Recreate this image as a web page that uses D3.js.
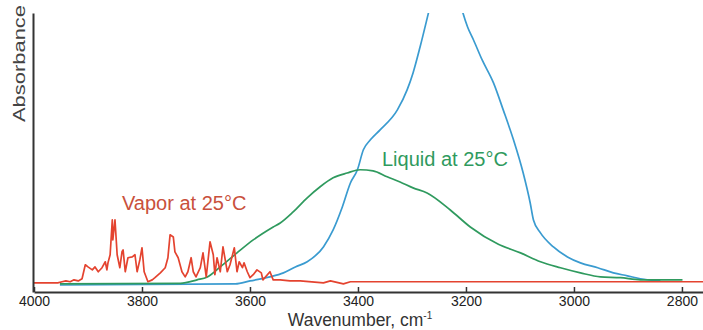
<!DOCTYPE html>
<html>
<head>
<meta charset="utf-8">
<script src="https://cdn.jsdelivr.net/npm/d3@7"></script>
<style>
  body { margin: 0; background: #fff; }
  svg { display: block; font-family: "Liberation Sans", Arial, sans-serif; }
</style>
</head>
<body>
<svg id="chart" width="703" height="330"></svg>
<script>
// Tick values on the wavenumber axis
const xTicks = [4000, 3800, 3600, 3400, 3200, 3000, 2800];

// Vapor at 25°C (red)
const vaporWn = [4000, 3956, 3948, 3941, 3933, 3926, 3918, 3911, 3905, 3900, 3892, 3887, 3881, 3874, 3868, 3865, 3863, 3859, 3855, 3854,
  3850, 3846, 3841, 3837, 3835, 3831, 3826, 3818, 3813, 3809, 3804, 3800, 3796, 3789, 3781, 3776, 3766, 3757, 3752, 3748,
  3742, 3739, 3733, 3726, 3720, 3715, 3709, 3705, 3700, 3692, 3687, 3681, 3674, 3668, 3665, 3661, 3655, 3650, 3642, 3637,
  3629, 3624, 3620, 3614, 3611, 3605, 3600, 3594, 3587, 3579, 3576, 3563, 3557, 3544, 3526, 3507, 3464, 3451, 3427, 3414, 2761];
const vaporAbs = [0, 0, 0.004, 0.007, 0.004, 0.011, 0.007, 0.015, 0.067, 0.059, 0.048, 0.059, 0.041, 0.056, 0.078, 0.048, 0.074, 0.104, 0.233, 0.159,
  0.233, 0.104, 0.056, 0.115, 0.122, 0.041, 0.093, 0.096, 0.104, 0.041, 0.085, 0.130, 0.041, 0.004, 0.011, 0.019, 0.037, 0.056, 0.093, 0.178,
  0.170, 0.115, 0.093, 0.041, 0.022, 0.041, 0.093, 0.041, 0.022, 0.056, 0.111, 0.022, 0.152, 0.104, 0.030, 0.093, 0.041, 0.133, 0.041, 0.067,
  0.130, 0.041, 0.078, 0.056, 0.074, 0.041, 0.019, 0.030, 0.048, 0.037, 0.011, 0.041, 0.011, 0.011, 0.007, 0.007, 0, 0.007, -0.004, 0.004, 0.004];

// Liquid at 25°C (green)
const liquidWn = [3952, 3729, 3698, 3679, 3655, 3624, 3594, 3557, 3544, 3520, 3494, 3470, 3446, 3420, 3396, 3372, 3346, 3322, 3298, 3272,
  3229, 3192, 3140, 3099, 3062, 3025, 2988, 2951, 2914, 2877, 2799];
const liquidAbs = [-0.004, -0.002, 0.011, 0.022, 0.059, 0.111, 0.159, 0.207, 0.222, 0.263, 0.315, 0.356, 0.389, 0.407, 0.419, 0.415, 0.393, 0.374, 0.352, 0.333,
  0.270, 0.207, 0.143, 0.111, 0.078, 0.056, 0.037, 0.022, 0.019, 0.011, 0.011];

// Unlabelled band (blue), peak runs off the top of the plot
const solidWn = [3952, 3627, 3600, 3563, 3538, 3516, 3494, 3464, 3446, 3429, 3414, 3401, 3390, 3377, 3359, 3327, 3309, 3298, 3285, 3270,
  3257, 3238, 3220, 3205, 3197, 3186, 3170, 3149, 3131, 3112, 3094, 3081, 3075, 3062, 3038, 3012, 2988, 2956, 2927, 2901, 2877, 2840];
const solidAbs = [-0.008, -0.004, 0.007, 0.022, 0.037, 0.059, 0.078, 0.133, 0.196, 0.281, 0.370, 0.419, 0.493, 0.530, 0.567, 0.641, 0.715, 0.778, 0.874, 0.996,
  1.104, 1.178, 1.120, 0.996, 0.948, 0.900, 0.826, 0.741, 0.641, 0.530, 0.407, 0.296, 0.233, 0.185, 0.133, 0.096, 0.074, 0.056, 0.037, 0.026, 0.015, 0.007];

const svg = d3.select('#chart');
const plotLeft = 33, plotRight = 703, plotTop = 13, plotBottom = 292;

const x = d3.scaleLinear().domain([4000, 2761]).range([34, plotRight]);
const y = d3.scaleLinear().domain([-0.034, 1.0]).range([plotBottom, plotTop]);

svg.append('defs').append('clipPath').attr('id', 'plot')
  .append('rect').attr('x', plotLeft).attr('y', plotTop)
  .attr('width', plotRight - plotLeft).attr('height', plotBottom - plotTop);

const plot = svg.append('g').attr('clip-path', 'url(#plot)');

// smooth bands get a monotone curve, the vapor lines stay jagged
const series = [
  { wn: solidWn, abs: solidAbs, color: '#3a9bd0', curve: d3.curveMonotoneX },
  { wn: liquidWn, abs: liquidAbs, color: '#2f9a5e', curve: d3.curveMonotoneX },
  { wn: vaporWn, abs: vaporAbs, color: '#e4432f', curve: d3.curveLinear }
];
series.forEach(s => {
  const line = d3.line().x(d => x(d[0])).y(d => y(d[1])).curve(s.curve);
  plot.append('path')
    .datum(d3.zip(s.wn, s.abs))
    .attr('d', line)
    .attr('fill', 'none')
    .attr('stroke', s.color)
    .attr('stroke-width', 1.7)
    .attr('stroke-linejoin', 'round');
});

// Bottom axis: ticks point up into the plot, labels below
const xAxis = svg.append('g')
  .attr('transform', `translate(0,${plotBottom})`)
  .call(d3.axisBottom(x).tickValues(xTicks).tickSizeInner(-5).tickSizeOuter(0).tickPadding(4).tickFormat(d3.format('d')));
xAxis.select('.domain').attr('stroke', '#333').attr('stroke-width', 2);
xAxis.selectAll('.tick line').attr('stroke', '#333').attr('stroke-width', 1.5);
xAxis.selectAll('.tick text').attr('font-size', 14).attr('fill', '#222')
  .attr('font-family', '"Liberation Sans", Arial, sans-serif');

// Left axis: just the line
const yAxis = svg.append('g')
  .attr('transform', `translate(${plotLeft},0)`)
  .call(d3.axisLeft(y).ticks(0).tickSize(0));
yAxis.select('.domain').attr('stroke', '#333').attr('stroke-width', 2);

// Axis titles
const xTitle = svg.append('text')
  .attr('x', 360).attr('y', 326)
  .attr('text-anchor', 'middle')
  .attr('font-size', 17.5)
  .attr('fill', '#333');
xTitle.append('tspan').text('Wavenumber, cm');
xTitle.append('tspan').attr('dy', -7).attr('font-size', 10).text('-1');

svg.append('text')
  .attr('transform', 'translate(25,122) rotate(-90)')
  .attr('font-size', 17)
  .attr('textLength', 117)
  .attr('lengthAdjust', 'spacingAndGlyphs')
  .attr('fill', '#444')
  .text('Absorbance');

// Series labels
svg.append('text')
  .attr('x', 122).attr('y', 210)
  .attr('font-size', 20)
  .attr('fill', '#c9503c')
  .text('Vapor at 25°C');

svg.append('text')
  .attr('x', 382).attr('y', 166)
  .attr('font-size', 20)
  .attr('fill', '#2f9a5e')
  .text('Liquid at 25°C');
</script>
</body>
</html>
